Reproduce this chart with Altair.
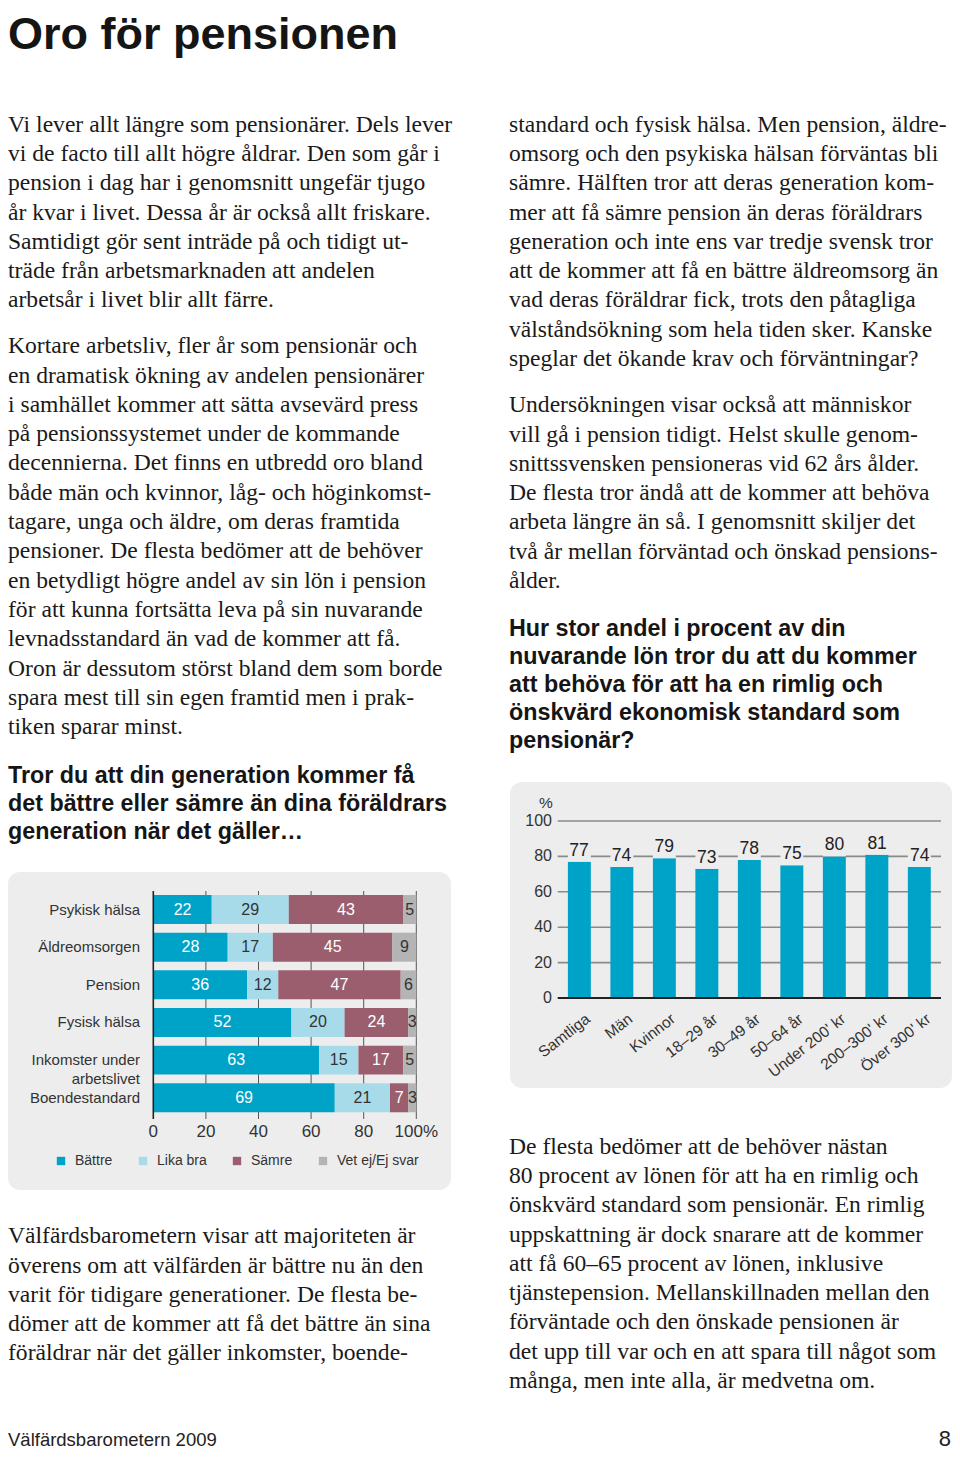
import altair as alt
import pandas as pd

# ---------------- data ----------------
bar_categories = ["Psykisk hälsa", "Äldreomsorgen", "Pension", "Fysisk hälsa",
                  "Inkomster under\narbetslivet", "Boendestandard"]
responses = ["Bättre", "Lika bra", "Sämre", "Vet ej/Ej svar"]
battre = [22, 28, 36, 52, 63, 69]
lika_bra = [29, 17, 12, 20, 15, 21]
samre = [43, 45, 47, 24, 17, 7]
vet_ej = [5, 9, 6, 3, 5, 3]
x_ticks = [0, 20, 40, 60, 80, 100]
x_tick_labels = ["0", "20", "40", "60", "80", "100%"]

groups = ["Samtliga", "Män", "Kvinnor", "18–29 år", "30–49 år", "50–64 år",
          "Under 200' kr", "200–300' kr", "Över 300' kr"]
share = [77, 74, 79, 73, 78, 75, 80, 81, 74]
y_ticks = [0, 20, 40, 60, 80, 100]

title_text = "Oro för pensionen"
left_p1 = [
    "Vi lever allt längre som pensionärer. Dels lever",
    "vi de facto till allt högre åldrar. Den som går i",
    "pension i dag har i genomsnitt ungefär tjugo",
    "år kvar i livet. Dessa år är också allt friskare.",
    "Samtidigt gör sent inträde på och tidigt ut-",
    "träde från arbetsmarknaden att andelen",
    "arbetsår i livet blir allt färre.",
]
left_p2 = [
    "Kortare arbetsliv, fler år som pensionär och",
    "en dramatisk ökning av andelen pensionärer",
    "i samhället kommer att sätta avsevärd press",
    "på pensionssystemet under de kommande",
    "decennierna. Det finns en utbredd oro bland",
    "både män och kvinnor, låg- och höginkomst-",
    "tagare, unga och äldre, om deras framtida",
    "pensioner. De flesta bedömer att de behöver",
    "en betydligt högre andel av sin lön i pension",
    "för att kunna fortsätta leva på sin nuvarande",
    "levnadsstandard än vad de kommer att få.",
    "Oron är dessutom störst bland dem som borde",
    "spara mest till sin egen framtid men i prak-",
    "tiken sparar minst.",
]
left_heading = [
    "Tror du att din generation kommer få",
    "det bättre eller sämre än dina föräldrars",
    "generation när det gäller…",
]
left_p3 = [
    "Välfärdsbarometern visar att majoriteten är",
    "överens om att välfärden är bättre nu än den",
    "varit för tidigare generationer. De flesta be-",
    "dömer att de kommer att få det bättre än sina",
    "föräldrar när det gäller inkomster, boende-",
]
right_p1 = [
    "standard och fysisk hälsa. Men pension, äldre-",
    "omsorg och den psykiska hälsan förväntas bli",
    "sämre. Hälften tror att deras generation kom-",
    "mer att få sämre pension än deras föräldrars",
    "generation och inte ens var tredje svensk tror",
    "att de kommer att få en bättre äldreomsorg än",
    "vad deras föräldrar fick, trots den påtagliga",
    "välståndsökning som hela tiden sker. Kanske",
    "speglar det ökande krav och förväntningar?",
]
right_p2 = [
    "Undersökningen visar också att människor",
    "vill gå i pension tidigt. Helst skulle genom-",
    "snittssvensken pensioneras vid 62 års ålder.",
    "De flesta tror ändå att de kommer att behöva",
    "arbeta längre än så. I genomsnitt skiljer det",
    "två år mellan förväntad och önskad pensions-",
    "ålder.",
]
right_heading = [
    "Hur stor andel i procent av din",
    "nuvarande lön tror du att du kommer",
    "att behöva för att ha en rimlig och",
    "önskvärd ekonomisk standard som",
    "pensionär?",
]
right_p3 = [
    "De flesta bedömer att de behöver nästan",
    "80 procent av lönen för att ha en rimlig och",
    "önskvärd standard som pensionär. En rimlig",
    "uppskattning är dock snarare att de kommer",
    "att få 60–65 procent av lönen, inklusive",
    "tjänstepension. Mellanskillnaden mellan den",
    "förväntade och den önskade pensionen är",
    "det upp till var och en att spara till något som",
    "många, men inte alla, är medvetna om.",
]
footer_text = "Välfärdsbarometern 2009"
page_number = "8"
percent_label = "%"

# ---------------- styles / layout ----------------
W, H = 944, 1443          # fits the 960x1459 window with the 8px page margin
SERIF = "Liberation Serif"
SANS = "Liberation Sans"
TEXT = "#1a1a1a"
HEAD = "#151515"
LABEL = "#333333"
PANEL = "#ededed"
COLORS = ["#00a3c8", "#a8dbe9", "#9b5e6e", "#b4b4b4"]
TEAL = "#00a3c8"
BODY_SIZE = 23.6
BODY_LH = 29.3
HEAD_SIZE = 23.3
HEAD_LH = 28


def XL(v):  # left column
    return max(v - 4, 0)


def XR(v):  # right column
    return v - 12


def Y(v):
    return v - 8


one = pd.DataFrame({"k": [0]})


def para(lines, x, y, size=BODY_SIZE, font=SERIF, weight="normal", color=TEXT,
         lh=BODY_LH, align="left"):
    return alt.Chart(one).mark_text(
        align=align, baseline="alphabetic", font=font, fontSize=size,
        fontWeight=weight, color=color, lineHeight=lh
    ).encode(x=alt.value(x), y=alt.value(Y(y)), text=alt.value(lines))


def panel(x0, x1, y0, y1):
    return alt.Chart(one).mark_rect(color=PANEL, cornerRadius=12).encode(
        x=alt.value(x0), x2=alt.value(x1), y=alt.value(Y(y0)), y2=alt.value(Y(y1))
    )


# ---------------- text layers ----------------
texts = [
    para(title_text, XL(4), 49, size=45, font=SANS, weight="bold", color=HEAD),
    para(left_p1, XL(4), 131.7),
    para(left_p2, XL(4), 353.3),
    para(left_heading, XL(4), 783.3, size=HEAD_SIZE, font=SANS, weight="bold", color=HEAD, lh=HEAD_LH),
    para(left_p3, XL(4), 1243.3),
    para(right_p1, XR(513), 131.7),
    para(right_p2, XR(513), 412.3),
    para(right_heading, XR(513), 635.7, size=HEAD_SIZE, font=SANS, weight="bold", color=HEAD, lh=HEAD_LH),
    para(right_p3, XR(513), 1153.7),
    para(footer_text, XL(4), 1445.5, size=18.5, font=SANS, color="#222222"),
    para(page_number, W - 1, 1445.5, size=22, font=SANS, color="#222222", align="right"),
]

# ---------------- chart 1: stacked horizontal bars ----------------
rows = []
for i, c in enumerate(bar_categories):
    for j, vals in enumerate([battre, lika_bra, samre, vet_ej]):
        rows.append({"cat": c, "resp": responses[j], "val": vals[i], "ord": j})
stack_df = pd.DataFrame(rows)

DY1 = 1.0
xs1 = alt.Scale(domain=[0, 100], range=[XL(149.3), XL(412.3)])
ys1 = alt.Scale(domain=bar_categories, range=[Y(889.7 + DY1), Y(1115.6 + DY1)],
                paddingInner=0.23, paddingOuter=0.115)

base1 = alt.Chart(stack_df).transform_stack(
    stack="val", groupby=["cat"], as_=["s0", "s1"], offset="normalize",
    sort=[alt.SortField("ord")]
).transform_calculate(
    a="datum.s0*100", b="datum.s1*100", mid="(datum.s0+datum.s1)*50",
    tc="(datum.ord == 0 || datum.ord == 2) ? '#ffffff' : '#333333'"
)

grid1 = alt.Chart(pd.DataFrame({"t": x_ticks[1:]})).mark_rule(color="#555555", strokeWidth=1).encode(
    x=alt.X("t:Q", scale=xs1, axis=None), y=alt.value(Y(890 + DY1)), y2=alt.value(Y(1118 + DY1))
)
bars1 = base1.mark_bar().encode(
    x=alt.X("a:Q", scale=xs1, axis=None),
    x2="b:Q",
    y=alt.Y("cat:N", scale=ys1, axis=None),
    color=alt.Color("resp:N", scale=alt.Scale(domain=responses, range=COLORS),
                    legend=alt.Legend(orient="none", legendX=XL(50), legendY=Y(1154),
                                      direction="horizontal", title=None, symbolType="square",
                                      symbolSize=70, symbolStrokeWidth=0, symbolOpacity=1,
                                      labelFont=SANS, labelFontSize=14, labelColor=LABEL,
                                      labelOffset=7, columnPadding=23, padding=0)),
)
axis1 = alt.Chart(pd.DataFrame({"t": [0]})).mark_rule(color="#222222", strokeWidth=1.6).encode(
    x=alt.X("t:Q", scale=xs1, axis=None), y=alt.value(Y(890 + DY1)), y2=alt.value(Y(1118 + DY1))
)
vals1 = base1.mark_text(font=SANS, fontSize=16, baseline="middle", align="center").encode(
    x=alt.X("mid:Q", scale=xs1, axis=None),
    y=alt.Y("cat:N", scale=ys1, axis=None),
    text="val:Q",
    color=alt.Color("tc:N", scale=None),
)
catlab1 = alt.Chart(pd.DataFrame({"cat": bar_categories})).mark_text(
    align="right", baseline="middle", lineBreak="\n", lineHeight=19,
    font=SANS, fontSize=15, color=LABEL
).encode(x=alt.value(XL(136)), y=alt.Y("cat:N", scale=ys1, axis=None), text="cat:N")
ticklab1 = alt.Chart(pd.DataFrame({"t": x_ticks, "lab": x_tick_labels})).mark_text(
    font=SANS, fontSize=17, baseline="middle", align="center", color=LABEL
).encode(x=alt.X("t:Q", scale=xs1, axis=None), y=alt.value(Y(1132)), text="lab:N")

# ---------------- chart 2: vertical bars ----------------
df2 = pd.DataFrame({"g": groups, "v": share})
xs2 = alt.Scale(domain=groups, range=[XR(561.7), XR(945)], paddingInner=0.46, paddingOuter=0.24)
ys2 = alt.Scale(domain=[0, 100], range=[Y(998), Y(821)])

grid2 = alt.Chart(pd.DataFrame({"t": y_ticks[1:]})).mark_rule(color="#8a8a8a", strokeWidth=1.6).encode(
    y=alt.Y("t:Q", scale=ys2, axis=None), x=alt.value(XR(561.7)), x2=alt.value(XR(945))
)
bars2 = alt.Chart(df2).mark_bar(color=TEAL).encode(
    x=alt.X("g:N", scale=xs2, axis=None, sort=groups),
    y=alt.Y("v:Q", scale=ys2, axis=None),
)
knock2 = alt.Chart(df2).mark_rect(color=PANEL, y2Offset=-21).encode(
    x=alt.X("g:N", scale=xs2, axis=None, sort=groups),
    y=alt.Y("v:Q", scale=ys2, axis=None),
    y2="v:Q",
)
zero2 = alt.Chart(pd.DataFrame({"t": [0]})).mark_rule(color="#222222", strokeWidth=2).encode(
    y=alt.Y("t:Q", scale=ys2, axis=None), x=alt.value(XR(561.7)), x2=alt.value(XR(945))
)
vals2 = alt.Chart(df2).mark_text(font=SANS, fontSize=17.5, baseline="middle", dy=-11, color="#222222").encode(
    x=alt.X("g:N", scale=xs2, axis=None, sort=groups),
    y=alt.Y("v:Q", scale=ys2, axis=None),
    text="v:Q",
)
ylab2 = alt.Chart(pd.DataFrame({"t": y_ticks})).mark_text(
    font=SANS, fontSize=16, baseline="middle", align="right", color=LABEL
).encode(y=alt.Y("t:Q", scale=ys2, axis=None), x=alt.value(XR(556)), text="t:Q")
xlab2 = alt.Chart(df2).mark_text(
    font=SANS, fontSize=15.5, baseline="middle", align="right", angle=322,
    xOffset=9, color=LABEL
).encode(x=alt.X("g:N", scale=xs2, axis=None, sort=groups), y=alt.value(Y(1017)), text="g:N")
pct2 = para(percent_label, XR(550), 807.5, size=15.5, font=SANS, color=LABEL, align="center")

chart = alt.layer(
    panel(XL(4), XL(447), 872, 1190),
    panel(XR(514), XR(956), 782, 1088),
    *texts,
    grid1, bars1, axis1, vals1, catlab1, ticklab1,
    grid2, bars2, knock2, zero2, vals2, ylab2, xlab2, pct2,
).resolve_scale(
    x="independent", y="independent", color="independent"
).properties(
    width=W, height=H, padding=0, autosize=alt.AutoSizeParams(type="none"),
    background="white"
).configure_view(stroke=None)

chart.save("out.html", embed_options={"renderer": "svg", "actions": False})
